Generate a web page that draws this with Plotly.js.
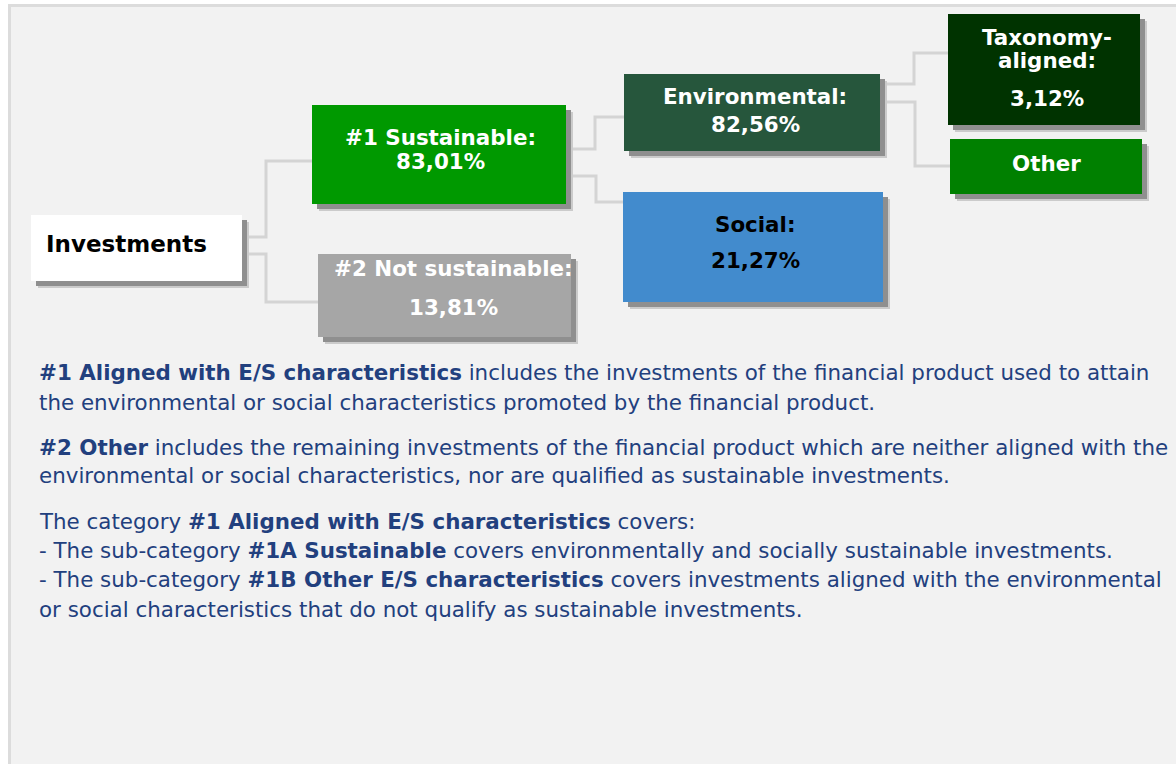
<!DOCTYPE html>
<html><head><meta charset="utf-8">
<script src="https://cdn.plot.ly/plotly-3.0.1.min.js"></script>
<style>html,body{margin:0;padding:0;background:#fff;}#chart{width:1176px;height:764px;}</style>
</head><body><div id="chart"></div>
<script>
// ---- data ----
const nodeNames = ['Investments', '#1 Sustainable:', '#2 Not sustainable:', 'Environmental:', 'Social:', 'Taxonomy-|aligned:', 'Other'];
const nodeShares = [null, 83.01, 13.81, 82.56, 21.27, 3.12, null];
const nodeParents = [null, 0, 0, 1, 1, 3, 3];
const noteLines = [
  '<b>#1 Aligned with E/S characteristics</b> includes the investments of the financial product used to attain',
  'the environmental or social characteristics promoted by the financial product.',
  '<b>#2 Other</b> includes the remaining investments of the financial product which are neither aligned with the',
  'environmental or social characteristics, nor are qualified as sustainable investments.',
  'The category <b>#1 Aligned with E/S characteristics</b> covers:',
  '- The sub-category <b>#1A Sustainable</b> covers environmentally and socially sustainable investments.',
  '- The sub-category <b>#1B Other E/S characteristics</b> covers investments aligned with the environmental',
  'or social characteristics that do not qualify as sustainable investments.'
];

// ---- layout geometry (pixels on hidden axes) ----
const boxGeom = [
  {x0:31, y0:215, x1:242, y1:281, fill:'#ffffff', color:'#000000', size:23, align:'left', tx:44, ty:[244]},
  {x0:312, y0:105, x1:566, y1:204, fill:'#009900', color:'#ffffff', size:21.4, tx:440, ty:[137,161]},
  {x0:318, y0:254, x1:571, y1:337, fill:'#a6a6a6', color:'#ffffff', size:21.4, tx:453, ty:[268,307]},
  {x0:624, y0:74, x1:880, y1:151, fill:'#26563c', color:'#ffffff', size:21.4, tx:755, ty:[96,124]},
  {x0:623, y0:192, x1:883, y1:302, fill:'#428bcd', color:'#000000', size:21.4, tx:755, ty:[224,260]},
  {x0:948, y0:14, x1:1140, y1:125, fill:'#003300', color:'#ffffff', size:21.4, tx:1047, ty:[37,60,98]},
  {x0:950, y0:139, x1:1142, y1:194, fill:'#008000', color:'#ffffff', size:21.4, tx:1046, ty:[163]}
];
// connector: [y at parent, x of elbow, y at child]
const connGeom = [null, [237,266,161], [254,266,302], [149,595,117], [176,596,202], [84,914,53], [102,915,166]];
const noteY = [372, 402, 447, 475, 521, 550, 579, 609];

const FONT = 'DejaVu Sans, Verdana, sans-serif';
const shapes = [];
const annotations = [];

// frame
shapes.push({type:'rect', xref:'x', yref:'y', x0:9.5, y0:5.5, x1:1180, y1:780, fillcolor:'#f2f2f2', line:{color:'#dcdcdc', width:3}, layer:'below'});

function fmt(v){ return v.toFixed(2).replace('.', ',') + '%'; }

// connectors
nodeNames.forEach((n, i) => {
  const p = nodeParents[i];
  if (p === null) return;
  const g = connGeom[i], pb = boxGeom[p], cb = boxGeom[i];
  shapes.push({type:'path', xref:'x', yref:'y',
    path:`M ${pb.x1} ${g[0]} L ${g[1]} ${g[0]} L ${g[1]} ${g[2]} L ${cb.x0} ${g[2]}`,
    line:{color:'#d4d4d4', width:3}});
});

// boxes
nodeNames.forEach((n, i) => {
  const b = boxGeom[i];
  shapes.push({type:'rect', xref:'x', yref:'y', x0:b.x0+7, y0:b.y0+7, x1:b.x1+7, y1:b.y1+7, fillcolor:'#cbcbcb', line:{width:0}});
  shapes.push({type:'rect', xref:'x', yref:'y', x0:b.x0+5, y0:b.y0+5, x1:b.x1+5, y1:b.y1+5, fillcolor:'#8f8f8f', line:{width:0}});
  shapes.push({type:'rect', xref:'x', yref:'y', x0:b.x0, y0:b.y0, x1:b.x1, y1:b.y1, fillcolor:b.fill, line:{width:0}});
  const lines = n.split('|');
  if (nodeShares[i] !== null) lines.push(fmt(nodeShares[i]));
  lines.forEach((t, k) => {
    annotations.push({xref:'x', yref:'y', x:b.tx, y:b.ty[k], text:t, showarrow:false,
      xanchor: b.align === 'left' ? 'left' : 'center', yanchor:'middle',
      font:{family:FONT, size:b.size, color:b.color, weight:'bold'}});
  });
});

// notes
noteLines.forEach((t, k) => {
  annotations.push({xref:'x', yref:'y', x:37, y:noteY[k], text:t, showarrow:false, xanchor:'left', yanchor:'middle',
    font:{family:FONT, size:21.4, color:'#22407e'}});
});

const layout = {
  width:1176, height:764, margin:{l:0, r:0, t:0, b:0},
  paper_bgcolor:'#ffffff', plot_bgcolor:'rgba(0,0,0,0)',
  xaxis:{range:[0,1176], visible:false, fixedrange:true},
  yaxis:{range:[764,0], visible:false, fixedrange:true},
  showlegend:false, shapes:shapes, annotations:annotations
};
Plotly.newPlot('chart', [{x:[], y:[], type:'scatter', mode:'markers', hoverinfo:'skip'}], layout, {staticPlot:true, displayModeBar:false});
</script></body></html>
